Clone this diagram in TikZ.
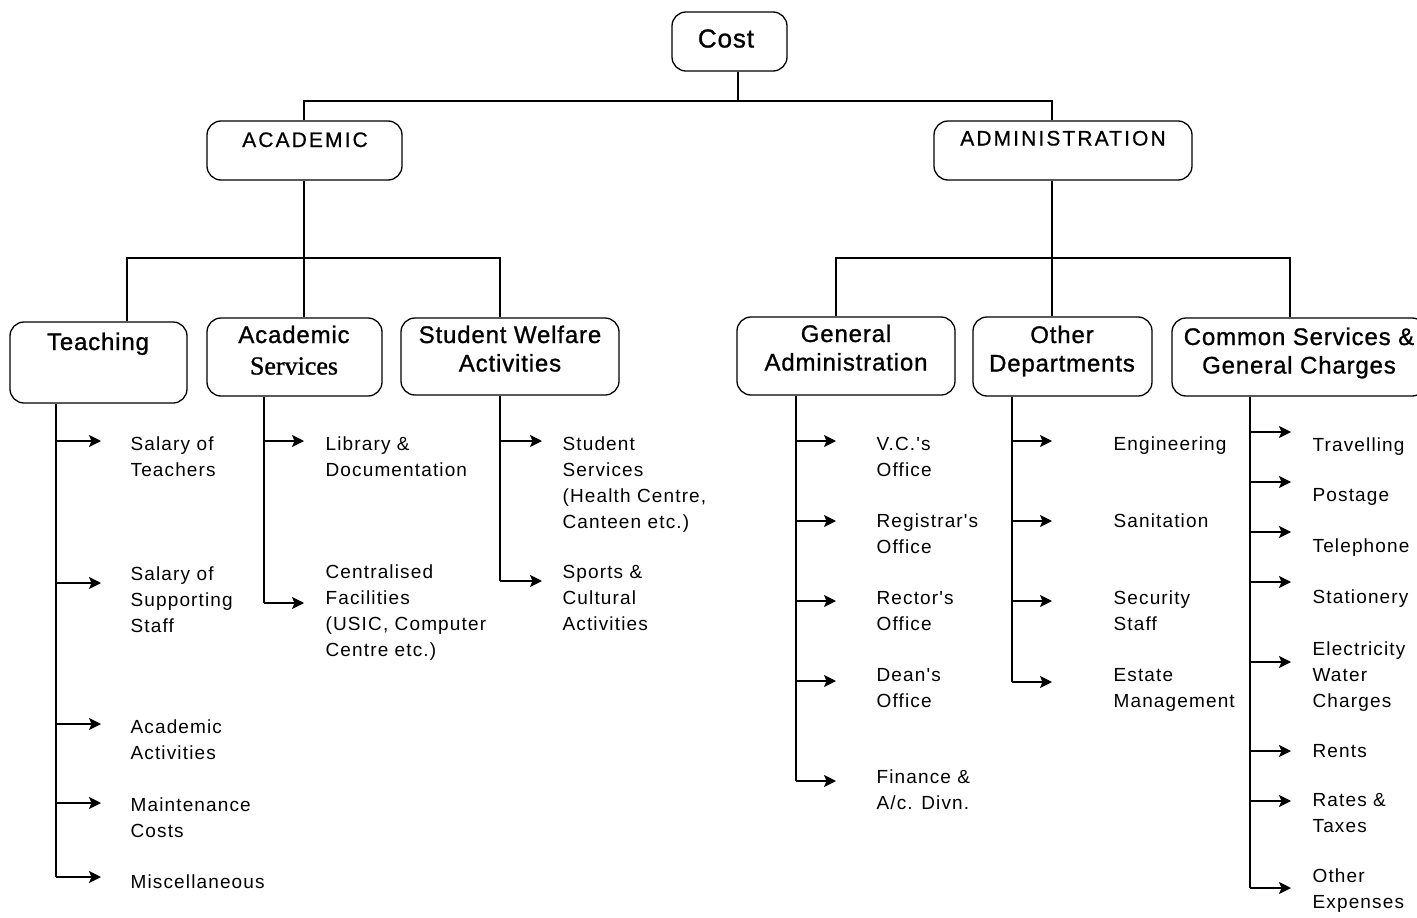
\documentclass[tikz,border=0pt]{standalone}
\usepackage{fontspec}
\setmainfont{Liberation Sans}
\newfontfamily\itemfont[LetterSpace=6]{Liberation Sans}
\newfontfamily\headfont[LetterSpace=3.5,FakeBold=1]{Liberation Sans}
\newfontfamily\capsfont[LetterSpace=10,FakeBold=0.6]{Liberation Sans}
\newfontfamily\serviceserif[FakeBold=1]{Liberation Serif}
\usetikzlibrary{arrows.meta}
% stacked lines whose baseline is that of the first line
\newcommand\leftlines[1]{\begin{tabular}[t]{@{}l@{}}#1\end{tabular}}
\newcommand\centrelines[1]{\begin{tabular}[t]{@{}c@{}}#1\end{tabular}}

\begin{document}
\begin{tikzpicture}[x=1pt,y=-1pt,
  line width=1.2pt,
  box/.style={draw, rounded corners=14pt, inner sep=0pt, line width=1.3pt},
  head/.style={inner sep=0pt, anchor=base,
    font=\headfont\fontsize{24}{28.5}\selectfont},
  caps/.style={inner sep=0pt, anchor=base,
    font=\capsfont\fontsize{21}{25}\selectfont},
  item/.style={inner sep=0pt, anchor=base west,
    font=\itemfont\fontsize{19}{26}\selectfont},
  arr/.style={-{Stealth[length=12pt,width=12pt,inset=2.5pt]}, line width=1.3pt}
]
\useasboundingbox (0,0) rectangle (1417,918);
\clip (0,0) rectangle (1417,918);

% ---- boxes ----
\node[box, minimum width=115pt, minimum height=59pt] (cost)  at (729.5,41.5) {};
\node[box, minimum width=195pt, minimum height=59pt] (acad)  at (304.5,150.5) {};
\node[box, minimum width=258pt, minimum height=59pt] (admin) at (1063,150.5) {};
\node[box, minimum width=177pt, minimum height=81pt] (teach) at (98.5,362.5) {};
\node[box, minimum width=175pt, minimum height=78pt] (asrv)  at (294.5,357) {};
\node[box, minimum width=218pt, minimum height=77pt] (swel)  at (510,356.5) {};
\node[box, minimum width=218pt, minimum height=78pt] (gadm)  at (846,356) {};
\node[box, minimum width=179pt, minimum height=79pt] (odep)  at (1062.5,356.5) {};
\node[box, minimum width=254pt, minimum height=78pt] (csrv)  at (1299,357) {};

% ---- box labels ----
\node[caps, font=\headfont\fontsize{26}{30}\selectfont] (costT) at (726,47.5) {Cost};
\node[caps] (acadT)  at (305,147) {ACADEMIC};
\node[caps] (adminT) at (1063,145.5) {ADMINISTRATION};
\node[head] (teachT) at (98,350) {Teaching};
\node[head] (asrvT)  at (294,343) {\centrelines{Academic\\[3pt]{\serviceserif\fontsize{26}{28.5}\selectfont Services}}};
\node[head] (swelT)  at (510,343) {\centrelines{Student Welfare\\Activities}};
\node[head] (gadmT)  at (846,342) {\centrelines{General\\Administration}};
\node[head] (odepT)  at (1062,343) {\centrelines{Other\\Departments}};
\node[head] (csrvT)  at (1299,345) {\centrelines{Common Services \&\\General Charges}};

% ---- upper connectors ----
\coordinate (topbar) at (738,101);
\coordinate (acj) at (304,101);
\coordinate (adj) at (1052,101);
\draw (cost.south -| topbar) -- (topbar);
\draw (acad.north -| acj) -- (acj) -- (adj) -- (admin.north -| adj);

% academic branch
\coordinate (abl) at (127,258);
\coordinate (abr) at (500,258);
\draw (acad.south -| acj) -- (asrv.north -| acj);
\draw (teach.north -| abl) -- (abl) -- (abr) -- (swel.north -| abr);

% administration branch
\coordinate (dbl) at (836,258);
\coordinate (dbr) at (1290,258);
\draw (admin.south -| adj) -- (odep.north -| adj);
\draw (gadm.north -| dbl) -- (dbl) -- (dbr) -- (csrv.north -| dbr);

% ---- item lists ----
% Teaching
\coordinate (tsp) at (56,0);
\foreach \i/\a/\b/\txt in {
  1/441/450/{Salary of\\Teachers},
  2/583/580/{Salary of\\Supporting\\Staff},
  3/724/733/{Academic\\Activities},
  4/803/811/{Maintenance\\Costs},
  5/877/888/{Miscellaneous}}{
  \node[item] (T\i) at (130,\b) {\leftlines{\txt}};
  \coordinate (Ta\i) at (101,\a);
  \draw[arr] (Ta\i -| tsp) -- (Ta\i);
}
\draw (teach.south -| tsp) -- (Ta5 -| tsp);

% Academic Services
\coordinate (ssp) at (264,0);
\foreach \i/\a/\b/\txt in {
  1/441/450/{Library \&\\Documentation},
  2/603/578/{Centralised\\Facilities\\(USIC, Computer\\Centre etc.)}}{
  \node[item] (S\i) at (325,\b) {\leftlines{\txt}};
  \coordinate (Sa\i) at (304,\a);
  \draw[arr] (Sa\i -| ssp) -- (Sa\i);
}
\draw (asrv.south -| ssp) -- (Sa2 -| ssp);

% Student Welfare Activities
\coordinate (wsp) at (500,0);
\foreach \i/\a/\b/\txt in {
  1/441/450/{Student\\Services\\(Health Centre,\\Canteen etc.)},
  2/581/578/{Sports \&\\Cultural\\Activities}}{
  \node[item] (W\i) at (562,\b) {\leftlines{\txt}};
  \coordinate (Wa\i) at (542,\a);
  \draw[arr] (Wa\i -| wsp) -- (Wa\i);
}
\draw (swel.south -| wsp) -- (Wa2 -| wsp);

% General Administration
\coordinate (gsp) at (796,0);
\foreach \i/\a/\b/\txt in {
  1/441/450/{V.C.'s\\Office},
  2/521/527/{Registrar's\\Office},
  3/601/604/{Rector's\\Office},
  4/681/681/{Dean's\\Office},
  5/781/783/{Finance \&\\A/c. Divn.}}{
  \node[item] (G\i) at (876,\b) {\leftlines{\txt}};
  \coordinate (Ga\i) at (836,\a);
  \draw[arr] (Ga\i -| gsp) -- (Ga\i);
}
\draw (gadm.south -| gsp) -- (Ga5 -| gsp);

% Other Departments
\coordinate (osp) at (1012,0);
\foreach \i/\a/\b/\txt in {
  1/441/450/{Engineering},
  2/521/527/{Sanitation},
  3/601/604/{Security\\Staff},
  4/682/681/{Estate\\Management}}{
  \node[item] (O\i) at (1113,\b) {\leftlines{\txt}};
  \coordinate (Oa\i) at (1052,\a);
  \draw[arr] (Oa\i -| osp) -- (Oa\i);
}
\draw (odep.south -| osp) -- (Oa4 -| osp);

% Common Services & General Charges
\coordinate (csp) at (1250,0);
\foreach \i/\a/\b/\txt in {
  1/432/451/{Travelling},
  2/482/501/{Postage},
  3/532/552/{Telephone},
  4/582/603/{Stationery},
  5/662/655/{Electricity\\Water\\Charges},
  6/751/757/{Rents},
  7/801/806/{Rates \&\\Taxes},
  8/888/882/{Other\\Expenses}}{
  \node[item] (C\i) at (1312,\b) {\leftlines{\txt}};
  \coordinate (Ca\i) at (1291,\a);
  \draw[arr] (Ca\i -| csp) -- (Ca\i);
}
\draw (csrv.south -| csp) -- (Ca8 -| csp);
\end{tikzpicture}
\end{document}
